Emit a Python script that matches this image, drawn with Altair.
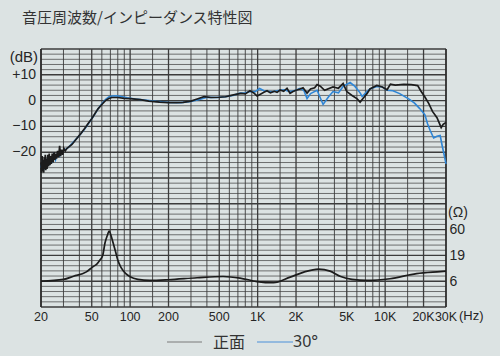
import math
import altair as alt
import pandas as pd

TITLE = "音圧周波数/インピーダンス特性図"

# ---- frequency response, front (正面) ----
freq_front = [20, 20.2, 20.4, 20.6, 20.8, 21, 21.2, 21.4, 21.6, 21.8,
              22, 22.3, 22.6, 22.9, 23.2, 23.5, 23.8, 24.1, 24.5, 24.9,
              25.3, 25.7, 26.1, 26.5, 27, 27.5, 28, 28.5, 29, 29.6,
              30.2, 31, 32,
              35, 38, 41, 44, 47, 50, 53, 56, 60, 64,
              68, 72, 80, 90, 100, 120, 140, 170, 200, 230,
              260, 300, 340, 380, 430, 500, 560, 620, 690, 740,
              800, 870, 930, 990, 1060, 1120, 1185, 1260, 1350, 1420,
              1500, 1600, 1700, 1796, 1894, 2000, 2150, 2270, 2440, 2600,
              2800, 2925, 3100, 3350, 3900, 4300, 4680, 5000, 5500, 6000,
              6360, 6800, 7200, 7600, 8600, 9500, 10350, 11000, 12000, 14000,
              16000, 18000, 19000, 20500, 22000, 23500, 25500, 27500, 28500, 30000]
db_front = [-24, -28, -21.5, -27.5, -23, -28, -22, -26.5, -21, -27,
            -22.5, -26.5, -21, -25.5, -20.5, -25, -21.5, -24.5, -20.5, -24,
            -20, -23, -20.5, -22.5, -19.5, -22, -17.5, -21.5, -19, -21,
            -18.5, -19.5, -18.5,
            -17, -14.8, -12.8, -10.8, -8.8, -7, -5, -3.2, -1.5, 0,
            0.8, 1.2, 1.2, 0.9, 0.8, 0.4, -0.2, -0.6, -0.8, -0.8,
            -0.7, -0.2, 0.7, 1.5, 1.2, 1.3, 1.5, 2.0, 2.5, 2.8,
            2.6, 3.8, 3.0, 1.8, 2.6, 3.2, 3.8, 3.0, 3.6, 3.2,
            4.1, 3.6, 4.8, 2.8, 3.5, 4.0, 4.5, 5.0, 2.9, 4.5,
            5.0, 6.2, 5.6, 4.0, 5.3, 4.8, 6.6, 3.5, 2.0, 0.8,
            -0.6, 1.2, 2.7, 4.5, 5.9, 5.3, 4.2, 6.4, 6.0, 6.3,
            6.2, 5.8, 3.8, 1.4, -1.2, -4.2, -6.6, -10.5, -9.2, -8.5]

# ---- frequency response, 30° ----
freq_30 = [20, 20.5, 21, 21.5, 22, 22.6, 23.2, 23.8, 24.5, 25.2,
           26, 27, 28, 29.5, 31, 33, 36, 40, 44, 48,
           52, 56, 60, 64, 68, 72, 78, 85, 95, 110,
           130, 160, 200, 250, 300, 350, 400, 480, 560, 640,
           728, 800, 871, 950, 1036, 1120, 1185, 1300, 1420, 1600,
           1800, 2000, 2150, 2300, 2440, 2600, 2925, 3260, 3600, 3900,
           4300, 4680, 5310, 5800, 6360, 6600, 7200, 7600, 8600, 9500,
           10350, 11500, 13000, 15500, 17000, 18600, 20500, 21500, 22500, 24000,
           25500, 27000, 28000, 29000, 30000]
db_30 = [-26, -23, -27, -22.5, -26.5, -22, -25, -21.5, -24, -21,
         -23, -20.5, -21.5, -19.5, -19, -18, -16, -13.5, -11, -8.3,
         -5.8, -3.2, -1.2, 0.4, 1.4, 1.8, 1.9, 1.6, 1.1, 0.6,
         0.2, -0.3, -0.7, -0.8, -0.3, 0.4, 1.3, 1.2, 1.5, 2.0,
         2.9, 3.0, 3.5, 3.4, 4.7, 3.8, 3.6, 3.4, 3.8, 4.2,
         3.5, 4.0, 4.7, 4.0, 0.8, 2.7, 4.0, -1.5, 1.5, 3.5,
         3.0, 5.5, 7.0, 5.5, 3.0, 1.6, 3.5, 4.5, 5.5, 5.3,
         4.0, 3.8, 2.7, 0.5, -1.0, -3.0, -5.5, -9.0, -11.5, -14.5,
         -13.8, -13.5, -17.5, -21, -24.5]

# ---- impedance (Ω) ----
freq_imp = [20, 30, 36, 45, 51, 55, 58, 61, 63.5, 66,
            68.5, 71, 73.6, 77, 80, 85, 92, 100, 115, 143,
            200, 335, 535, 728, 990, 1330, 1800, 2300, 3000, 3700,
            4480, 5500, 7200, 10900, 17600, 27000, 30000]
ohm_imp = [6.0, 6.5, 7.5, 9.0, 11.4, 13, 15.4, 19, 33, 45,
           56, 45, 33, 22, 15.4, 11, 8.5, 7.3, 6.5, 6.2,
           6.4, 7.0, 7.4, 6.9, 5.9, 5.6, 7.2, 9.0, 10.3, 9.4,
           7.4, 6.5, 6.2, 6.7, 8.4, 9.2, 9.4]

# ---- tick labels ----
x_ticks = [20, 50, 100, 200, 500, 1000, 2000, 5000, 10000, 20000, 30000]
db_ticks = [10, 0, -10, -20]
ohm_ticks = [60, 19, 6]

# ---- chart paper grid ----
grid_mult = [1, 1.5, 2, 3, 4, 5, 6, 7, 8, 9]
x_grid = sorted({round(m * d, 3) for d in [10, 100, 1000, 10000] for m in grid_mult
                 if 20 <= m * d <= 30000})
y_grid = list(range(-80, 21, 2))

df_front = pd.DataFrame({"f": freq_front, "db": db_front})
df_30 = pd.DataFrame({"f": freq_30, "db": db_30})
df_imp = pd.DataFrame({"f": freq_imp, "ohm": ohm_imp})
df_xg = pd.DataFrame({"f": x_grid,
                      "w": [1.3 if (v / 10 ** math.floor(math.log10(v))) in (1, 2, 5) else 0.9 for v in x_grid]})
df_yg = pd.DataFrame({"db": y_grid, "w": [1.4 if v % 10 == 0 else 0.7 for v in y_grid]})
df_xt = pd.DataFrame({"f": x_ticks})
df_dbt = pd.DataFrame({"db": db_ticks})

W, H = 405, 258
xs = alt.Scale(type="log", domain=[20, 30000], nice=False)
ys = alt.Scale(domain=[-80, 20], nice=False, zero=False)
# impedance scale: 6 Ω ↔ -70 dB, 10 dB per sqrt(10)
zs = alt.Scale(type="log", domain=[6 * 10 ** (-0.5), 6 * 10 ** 4.5], nice=False)

LBL_FONT = "Liberation Sans"
INK = "#262626"

vgrid = alt.Chart(df_xg).mark_rule(color="#3c3c3c").encode(
    x=alt.X("f:Q", scale=xs, axis=None),
    strokeWidth=alt.StrokeWidth("w:Q", scale=None),
)
hgrid = alt.Chart(df_yg).mark_rule(color="#3c3c3c").encode(
    y=alt.Y("db:Q", scale=ys, axis=None),
    strokeWidth=alt.StrokeWidth("w:Q", scale=None),
)
border = alt.Chart(pd.DataFrame({"f": [20, 30000]})).mark_rule(color="#2a2a2a", strokeWidth=1.6).encode(
    x=alt.X("f:Q", scale=xs, axis=None)
)

# tick label layers (text through the scales)
x_labels = alt.Chart(df_xt).transform_calculate(
    lab="datum.f >= 1000 ? (datum.f / 1000) + 'K' : '' + datum.f"
).mark_text(baseline="top", align="center", fontSize=12.5, font=LBL_FONT, color=INK, dy=4).encode(
    x=alt.X("f:Q", scale=xs, axis=None),
    y=alt.value(H),
    text="lab:N",
)
y_labels = alt.Chart(df_dbt).transform_calculate(
    lab="datum.db > 0 ? '+' + datum.db : (datum.db < 0 ? '−' + abs(datum.db) : '0')"
).mark_text(baseline="middle", align="right", fontSize=14, font=LBL_FONT, color=INK, dx=-5).encode(
    y=alt.Y("db:Q", scale=ys, axis=None),
    x=alt.value(0),
    text="lab:N",
)

line_30 = alt.Chart(df_30).mark_line(color="#2f86d6", strokeWidth=1.6).encode(
    x=alt.X("f:Q", scale=xs, axis=None),
    y=alt.Y("db:Q", scale=ys, axis=None),
    order="f:Q",
)
line_front = alt.Chart(df_front).mark_line(color="#1c1c1c", strokeWidth=1.7).encode(
    x=alt.X("f:Q", scale=xs, axis=None),
    y=alt.Y("db:Q", scale=ys, axis=None),
    order="f:Q",
)
line_imp = alt.Chart(df_imp).mark_line(color="#1c1c1c", strokeWidth=1.7, interpolate="monotone").encode(
    x=alt.X("f:Q", scale=xs, axis=None),
    y=alt.Y("ohm:Q", scale=zs, title=None, axis=alt.Axis(
        orient="right", values=ohm_ticks,
        domain=False, ticks=False, grid=False, labelPadding=3,
        labelFont=LBL_FONT, labelFontSize=14, labelColor=INK,
        labelBaseline="middle", labelFlush=False, labelOverlap=False)),
    order="f:Q",
)


def label(text, x, y, size=14, align="left", font=LBL_FONT, color=INK):
    return alt.Chart(pd.DataFrame({"t": [text]})).mark_text(
        align=align, baseline="middle", fontSize=size, font=font, color=color
    ).encode(x=alt.value(x), y=alt.value(y), text="t:N")


def legend_line(x1, x2, y, color, width):
    return alt.Chart(pd.DataFrame({"k": [0]})).mark_rule(color=color, strokeWidth=width).encode(
        x=alt.value(x1), x2=alt.value(x2), y=alt.value(y)
    )


annotations = [
    label(TITLE, -19, -31, size=15, font="Noto Sans CJK JP", color="#333333"),
    label("(dB)", -3, 8, size=15, align="right"),
    label("(Ω)", 407, 164, size=14),
    label("(Hz)", 418, 267, size=13),
    legend_line(126, 161, 293, "#7a7a7a", 1),
    label("正面", 172, 294, size=16, font="Noto Sans CJK JP", color="#333333"),
    legend_line(216, 252, 293, "#4a90d9", 1),
    label("30°", 252, 293, size=16, font="Noto Sans", color="#333333"),
]

chart = alt.layer(
    vgrid, hgrid, border, line_30, line_front, x_labels, y_labels, line_imp, *annotations
).resolve_scale(y="independent").properties(
    width=W, height=H,
    autosize=alt.AutoSizeParams(type="none"),
    padding={"left": 41, "top": 49, "right": 54, "bottom": 49},
    background="#dce3e3",
).configure_view(stroke=None)

chart.save("out.html", embed_options={"renderer": "svg", "actions": False})
